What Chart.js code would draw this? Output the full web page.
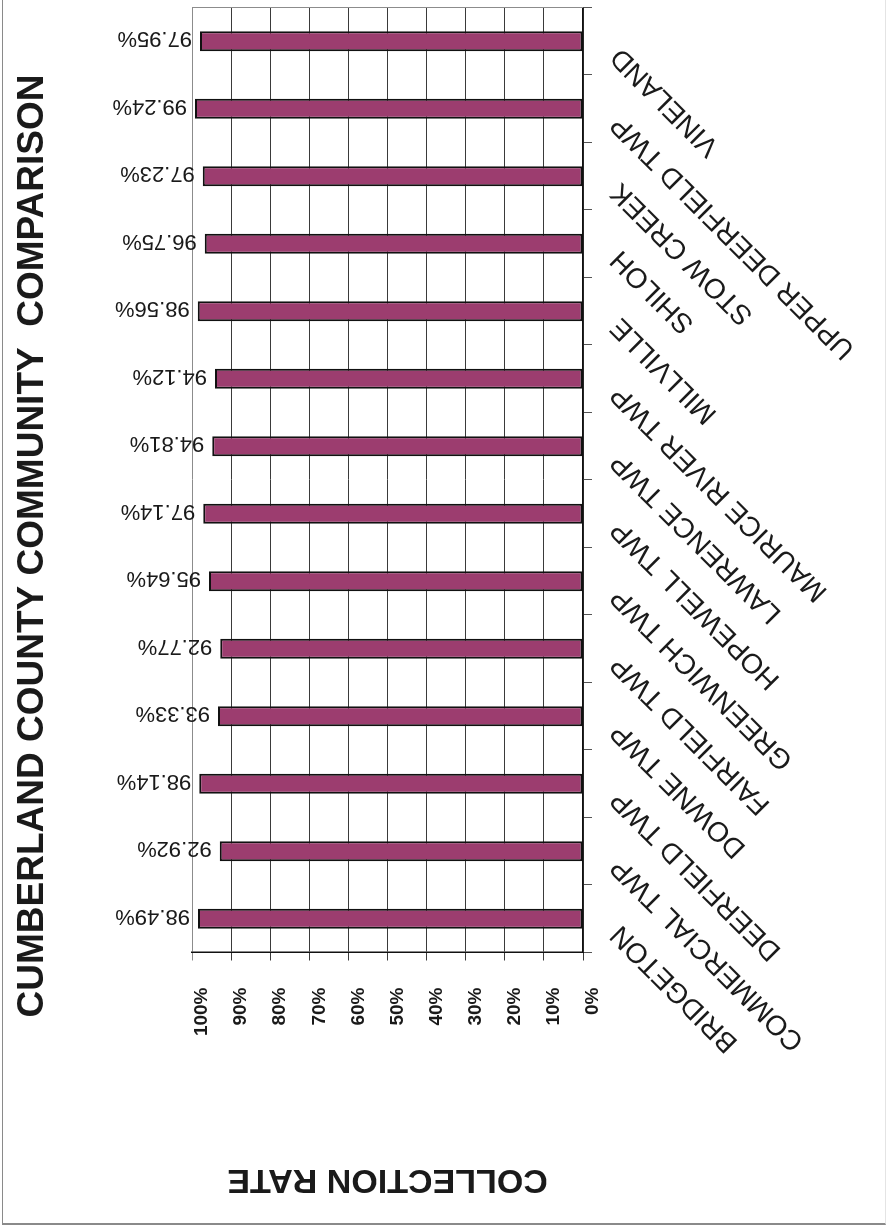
<!DOCTYPE html>
<html>
<head>
<meta charset="utf-8">
<title>Cumberland County Community Comparison</title>
<script src="https://cdn.jsdelivr.net/npm/chart.js@4.4.0/dist/chart.umd.min.js"></script>
<style>
  body { margin: 0; background: #fff; width: 887px; height: 1231px; overflow: hidden; position: relative; }
  /* scanned page edge */
  #page { position: absolute; left: 2px; top: -2px; width: 882px; height: 1225px;
          border-left: 1px solid #8a8a8a; border-bottom: 2px solid #8a8a8a; border-right: 1px solid #e4e4e4; }
  /* the printed chart is turned a quarter to the left on the page */
  #turn { position: absolute; left: 0; top: 0; width: 1231px; height: 887px;
          transform-origin: 0 0; transform: translate(0, 1231px) rotate(-90deg); }
</style>
</head>
<body>
<div id="page"></div>
<div id="turn"><canvas id="rateChart" width="1231" height="887"></canvas></div>
<script>
var towns = [
  "BRIDGETON", "COMMERCIAL TWP", "DEERFIELD TWP", "DOWNE TWP", "FAIRFIELD TWP",
  "GREENWICH TWP", "HOPEWELL TWP", "LAWRENCE TWP", "MAURICE RIVER TWP", "MILLVILLE",
  "SHILOH", "STOW CREEK", "UPPER DEERFIELD TWP", "VINELAND"
];
var rates = [98.49, 92.92, 98.14, 93.33, 92.77, 95.64, 97.14, 94.81, 94.12, 98.56, 96.75, 97.23, 99.24, 97.95];
var rateTicks = ["0%", "10%", "20%", "30%", "40%", "50%", "60%", "70%", "80%", "90%", "100%"];

var chartTitle = "CUMBERLAND COUNTY COMMUNITY  COMPARISON";
var axisTitle = "COLLECTION RATE";

var fontFamily = '"Liberation Sans", Arial, Helvetica, sans-serif';
Chart.defaults.font.family = fontFamily;
Chart.defaults.color = "#1a1a1a";

// value labels on the bar ends, the frame's far edge and the big title
var extras = {
  id: "extras",
  beforeDatasetsDraw: function (chart) {
    var c = chart.ctx, a = chart.chartArea;
    c.save();
    c.strokeStyle = "#8c8c8c";
    c.lineWidth = 1;
    c.beginPath();
    c.moveTo(a.right, a.top);
    c.lineTo(a.right, a.bottom);
    c.stroke();
    c.restore();
  },
  afterDatasetsDraw: function (chart) {
    var c = chart.ctx;
    var meta = chart.getDatasetMeta(0);
    c.save();
    c.font = "22px " + fontFamily;
    c.fillStyle = "#1a1a1a";
    c.textAlign = "left";
    c.textBaseline = "middle";
    meta.data.forEach(function (bar, i) {
      c.save();
      c.translate(bar.x + 3, bar.y - 8);
      c.rotate(-Math.PI / 2);
      c.fillText(rates[i].toFixed(2) + "%", 0, 0);
      c.restore();
    });
    c.font = "bold 37px " + fontFamily;
    c.textAlign = "center";
    c.textBaseline = "alphabetic";
    c.fillText(chartTitle, 685, 43);
    c.restore();
  }
};

var ctx = document.getElementById("rateChart");
var rateChart = new Chart(ctx, {
  type: "bar",
  data: {
    labels: towns,
    datasets: [{
      data: rates,
      backgroundColor: "#9c3d6f",
      borderColor: "#111",
      borderWidth: 2,
      borderSkipped: false,
      categoryPercentage: 1,
      barPercentage: 0.296
    }]
  },
  options: {
    responsive: false,
    animation: false,
    events: [],
    layout: { padding: { top: 192, right: 7.5, left: 0, bottom: 0 } },
    plugins: {
      legend: { display: false },
      tooltip: { enabled: false }
    },
    scales: {
      x: {
        offset: true,
        grid: { display: true, offset: true, drawOnChartArea: false, drawTicks: true, tickLength: 9, color: "#555", lineWidth: 1 },
        border: { display: true, color: "#111", width: 1.5 },
        ticks: { minRotation: 45, maxRotation: 45, autoSkip: false, padding: 12, labelOffset: -11, color: "#1a1a1a", font: { size: 28 } },
        afterFit: function (s) { s.height = 304; }
      },
      y: {
        min: 0,
        max: 100,
        ticks: {
          stepSize: 10, padding: 27, labelOffset: 10, color: "#1a1a1a",
          font: { size: 19, weight: "bold" },
          callback: function (v, i) { return rateTicks[i]; }
        },
        grid: {
          tickLength: 8, lineWidth: 1,
          color: function (c) { return c.tick && c.tick.value === 100 ? "#8c8c8c" : "#3a3a3a"; }
        },
        border: { display: true, color: "#111", width: 1.5 },
        title: { display: true, text: axisTitle, color: "#1a1a1a", font: { size: 34, weight: "bold" }, padding: { top: 31, bottom: 0 } },
        afterFit: function (s) { s.width = 278.5; }
      }
    }
  },
  plugins: [extras]
});
</script>
</body>
</html>
